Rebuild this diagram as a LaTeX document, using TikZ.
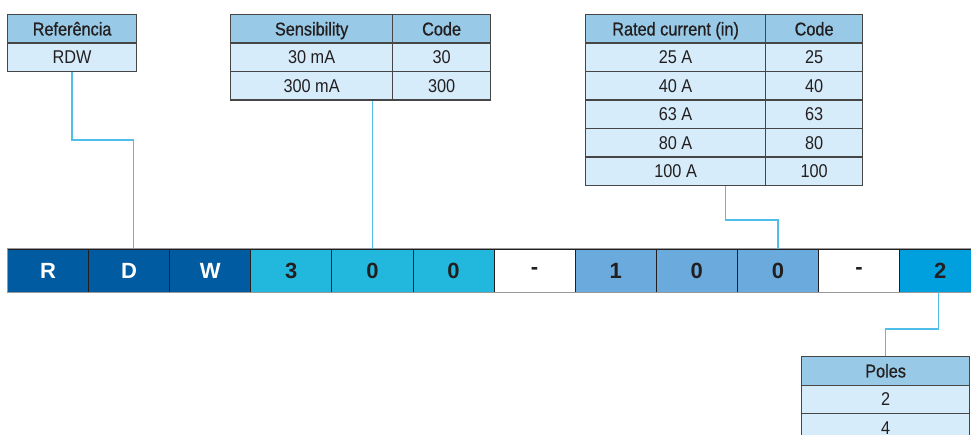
\documentclass[tikz,border=0pt]{standalone}
\usepackage{fontspec}
\setmainfont{Liberation Sans}
\newfontfamily\cond[FakeStretch=0.88]{Liberation Sans}
\newfontfamily\condm[FakeStretch=0.88,FakeBold=0.8]{Liberation Sans}
\usetikzlibrary{calc}
\definecolor{txt}{RGB}{35,31,32}
\definecolor{tline}{RGB}{70,70,70}
\definecolor{hfill}{RGB}{152,201,230}
\definecolor{rfill}{RGB}{214,236,250}
\definecolor{conn}{RGB}{80,190,235}
\definecolor{cA}{RGB}{0,91,161}
\definecolor{cB}{RGB}{34,184,221}
\definecolor{cC}{RGB}{106,170,220}
\definecolor{cD}{RGB}{0,160,223}
\tikzset{
  cell/.style={draw=tline, line width=1.2pt, inner sep=0pt, anchor=north west,
    minimum height=28.5pt, text=txt, text height=13.2pt, text depth=0pt,
    font=\cond\fontsize{18.5}{20}\selectfont},
  hcell/.style={cell, fill=hfill, font=\condm\fontsize{18.5}{20}\selectfont},
  rcell/.style={cell, fill=rfill},
  barcell/.style={draw=txt, line width=1pt, inner sep=0pt, anchor=north west,
    minimum width=81.1pt, minimum height=43pt, font=\bfseries\fontsize{22}{24}\selectfont},
  wire/.style={draw=conn, line width=1.4pt}
}
\begin{document}
\begin{tikzpicture}[x=1pt,y=-1pt]
\useasboundingbox (0,0) rectangle (971,435);
% Referencia table
\node[hcell, minimum width=129pt] (refh) at (7,14) {Referência};
\node[rcell, minimum width=129pt] (refr) at (7,42.5) {RDW};
% Sensibility table
\node[hcell, minimum width=162pt] (sensh) at (230,14) {Sensibility};
\node[hcell, minimum width=98pt] (sensch) at (392,14) {Code};
\node[rcell, minimum width=162pt] (sens1) at (230,42.5) {30 mA};
\node[rcell, minimum width=98pt] (sensc1) at (392,42.5) {30};
\node[rcell, minimum width=162pt] (sens2) at (230,71) {300 mA};
\node[rcell, minimum width=98pt] (sensc2) at (392,71) {300};
% Rated current table
\node[hcell, minimum width=180pt] (rath) at (585,14) {Rated current (in)};
\node[hcell, minimum width=97pt] (ratch) at (765,14) {Code};
\foreach \v [count=\i] in {25,40,63,80,100}{
  \node[rcell, minimum width=180pt] (rat\i) at (585,14+28.5*\i) {\v{} A};
  \node[rcell, minimum width=97pt] (ratc\i) at (765,14+28.5*\i) {\v};
}
% Poles table
\node[hcell, minimum width=168pt] (polh) at (801,356) {Poles};
\node[rcell, minimum width=168pt] (pol1) at (801,384.5) {2};
\node[rcell, minimum width=168pt] (pol2) at (801,413) {4};
% Code bar
\foreach \t/\f/\c [count=\i from 0] in {R/cA/white,D/cA/white,W/cA/white,3/cB/txt,0/cB/txt,0/cB/txt,-/white/txt,1/cC/txt,0/cC/txt,0/cC/txt,-/white/txt,2/cD/txt}{
  \node[barcell, fill=\f, text=\c] (b\i) at (7+81.1*\i,249) {\t};
}
\draw[draw=gray!80, line width=1pt] (b0.north west) rectangle (b11.south east);
% connectors
\draw[wire] (refr.south) -- ++(0,68) -| ([xshift=4.5pt]b1.north);
\draw[wire] (b4.north) -- (b4.north |- sens2.south);
\coordinate (ratbot) at ($(rat5.south west)!0.5!(ratc5.south east)$);
\draw[wire] ([xshift=1.5pt]ratbot) -- ++(0,34) -| (b9.north);
\draw[wire] ([xshift=-1.5pt]b11.south) -- ++(0,36) -| (polh.north);
\end{tikzpicture}
\end{document}
